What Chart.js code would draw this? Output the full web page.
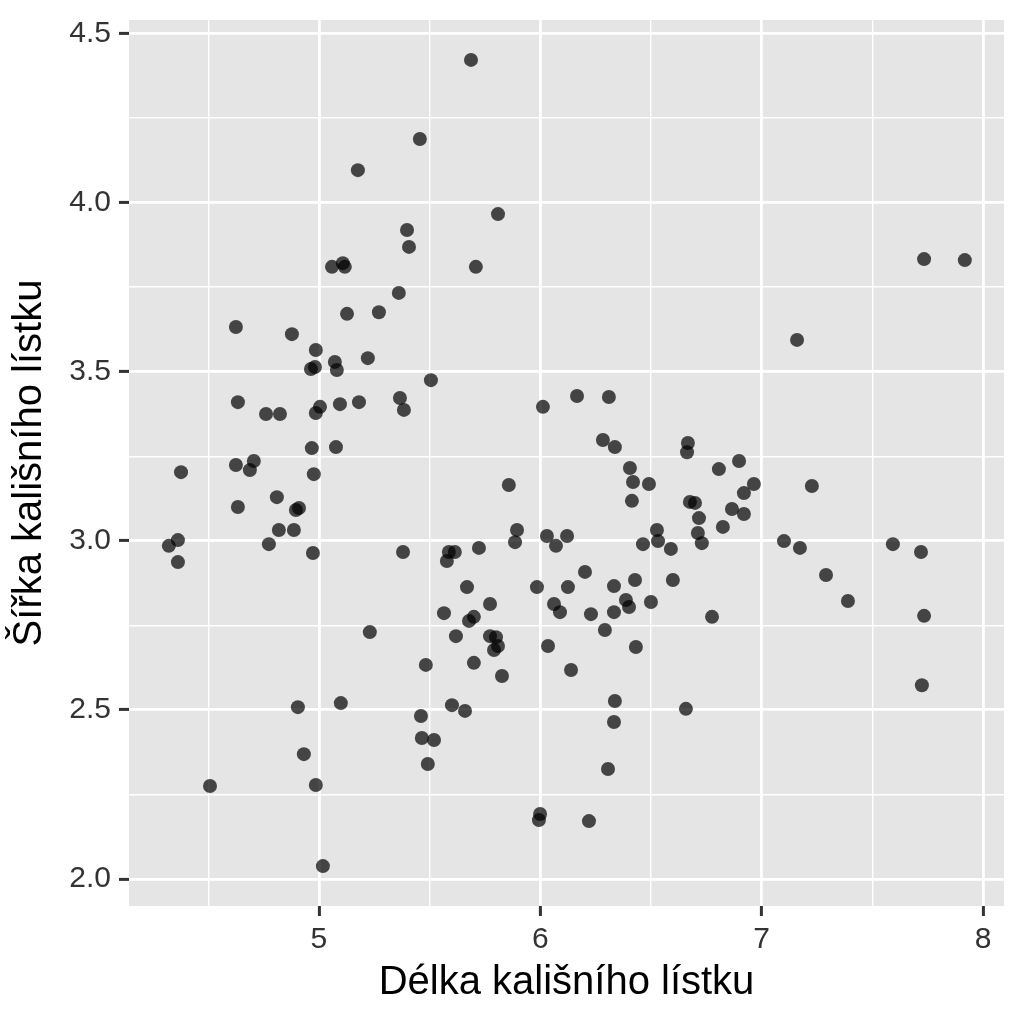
<!DOCTYPE html>
<html lang="cs">
<head>
<meta charset="utf-8">
<title>Kališní lístek</title>
<script src="https://cdn.jsdelivr.net/npm/chart.js@4.4.1/dist/chart.umd.min.js"></script>
<style>
  html, body { margin: 0; padding: 0; background: #fff; }
  #wrap { width: 1024px; height: 1024px; }
</style>
</head>
<body>
<div id="wrap"><canvas id="scatter" width="1024" height="1024"></canvas></div>
<script>
// --- Data (jittered points) ---
const sepalLength = [
  4.322, 4.363, 4.363, 4.377, 4.508, 4.625, 4.634, 4.625, 4.634, 4.706,
  4.688, 4.761, 4.824, 4.774, 4.810, 4.819, 4.878, 4.887, 4.896, 4.910,
  4.905, 4.932, 4.964, 4.986, 4.968, 4.977, 4.973, 4.986, 4.986, 5.005,
  5.018, 5.059, 5.072, 5.081, 5.077, 5.095, 5.108, 5.117, 5.127, 5.099,
  5.176, 5.181, 5.221, 5.230, 5.271, 5.361, 5.366, 5.384, 5.380, 5.398,
  5.407, 5.456, 5.461, 5.465, 5.483, 5.492, 5.506, 5.520, 5.565, 5.578,
  5.587, 5.614, 5.601, 5.619, 5.660, 5.669, 5.678, 5.700, 5.687, 5.709,
  5.700, 5.723, 5.773, 5.773, 5.791, 5.800, 5.809, 5.809, 5.827, 5.858,
  5.886, 5.895, 5.985, 5.999, 5.994, 6.012, 6.030, 6.035, 6.062, 6.071,
  6.089, 6.121, 6.125, 6.139, 6.166, 6.202, 6.220, 6.229, 6.283, 6.292,
  6.310, 6.306, 6.337, 6.333, 6.333, 6.337, 6.333, 6.387, 6.401, 6.405,
  6.419, 6.414, 6.428, 6.432, 6.464, 6.491, 6.500, 6.527, 6.532, 6.590,
  6.599, 6.658, 6.667, 6.663, 6.676, 6.699, 6.717, 6.712, 6.730, 6.776,
  6.807, 6.825, 6.866, 6.898, 6.920, 6.920, 6.965, 7.101, 7.160, 7.173,
  7.227, 7.291, 7.390, 7.593, 7.720, 7.734, 7.734, 7.724, 7.918, 4.982
];
const sepalWidth = [
  2.985, 3.002, 2.937, 3.203, 2.275, 3.632, 3.410, 3.224, 3.100, 3.236,
  3.209, 3.375, 3.375, 2.990, 3.129, 3.032, 3.611, 3.032, 3.091, 3.097,
  2.508, 2.369, 3.508, 3.564, 3.274, 3.197, 2.964, 2.278, 3.378, 3.396,
  2.038, 3.810, 3.529, 3.505, 3.277, 3.404, 3.821, 3.810, 3.671, 2.520,
  4.096, 3.410, 3.540, 2.730, 3.676, 3.733, 3.422, 3.387, 2.967, 3.919,
  3.869, 4.188, 2.482, 2.417, 2.633, 2.340, 3.475, 2.411, 2.786, 2.940,
  2.967, 2.967, 2.514, 2.718, 2.497, 2.863, 2.763, 2.775, 4.422, 3.810,
  2.639, 2.979, 2.813, 2.718, 2.677, 2.715, 2.689, 3.966, 2.600, 3.165,
  2.996, 3.032, 2.863, 2.192, 2.174, 3.396, 3.014, 2.689, 2.813, 2.985,
  2.789, 3.014, 2.863, 2.618, 3.428, 2.908, 2.171, 2.783, 3.298, 2.736,
  3.425, 2.325, 3.277, 2.866, 2.789, 2.526, 2.464, 2.825, 2.804, 3.215,
  3.174, 3.118, 2.884, 2.686, 2.990, 3.168, 2.819, 3.032, 2.999, 2.976,
  2.884, 2.503, 3.289, 3.262, 3.115, 3.112, 3.067, 3.023, 2.993, 2.775,
  3.212, 3.041, 3.094, 3.236, 3.141, 3.079, 3.168, 2.999, 3.594, 2.979,
  3.162, 2.899, 2.822, 2.990, 2.967, 3.833, 2.778, 2.573, 3.830, 3.514
];

const xTickValues = [4.5, 5, 5.5, 6, 6.5, 7, 7.5, 8];
const xTickLabels = ["", "5", "", "6", "", "7", "", "8"];
const yTickValues = [2, 2.25, 2.5, 2.75, 3, 3.25, 3.5, 3.75, 4, 4.25, 4.5];
const yTickLabels = ["2.0", "", "2.5", "", "3.0", "", "3.5", "", "4.0", "", "4.5"];

const xTitle = "Délka kališního lístku";
const yTitle = "Šířka kališního lístku";

// --- Helpers ---
const FONT = "'Liberation Sans', Arial, sans-serif";
const isMajor = (labels, i) => labels[i] !== "";

function gridFor(labels) {
  return {
    color: "#ffffff",
    lineWidth: (c) => (isMajor(labels, c.index) ? 2.8 : 1.4),
    tickColor: (c) => (isMajor(labels, c.index) ? "#333333" : "rgba(0,0,0,0)"),
    tickWidth: 3,
    tickLength: 10
  };
}

// grey panel behind the grid
const panelBackground = {
  id: "panelBackground",
  beforeDraw(chart) {
    const { ctx, chartArea: a } = chart;
    ctx.save();
    ctx.fillStyle = "#E5E5E5";
    ctx.fillRect(a.left, a.top, a.right - a.left, a.bottom - a.top);
    ctx.restore();
  }
};

// --- Render Chart ---
const ctx = document.getElementById("scatter").getContext("2d");
new Chart(ctx, {
  type: "scatter",
  data: {
    datasets: [{
      data: sepalLength.map((x, i) => ({ x, y: sepalWidth[i] })),
      backgroundColor: "rgba(0,0,0,0.7)",
      borderWidth: 0,
      pointRadius: 7,
      pointHoverRadius: 7
    }]
  },
  options: {
    responsive: false,
    animation: false,
    events: [],
    layout: { padding: { top: 20, right: 20, bottom: 0, left: 0 } },
    plugins: {
      legend: { display: false },
      tooltip: { enabled: false }
    },
    scales: {
      x: {
        type: "linear",
        min: 4.142,
        max: 8.095,
        afterBuildTicks: (s) => { s.ticks = xTickValues.map((v) => ({ value: v })); },
        afterFit: (s) => { s.height = 118; s.paddingLeft = 0; s.paddingRight = 0; },
        ticks: {
          autoSkip: false,
          maxRotation: 0,
          padding: 6,
          color: "#333333",
          font: { family: FONT, size: 30 },
          callback: (v, i) => xTickLabels[i]
        },
        grid: gridFor(xTickLabels),
        border: { display: false },
        title: {
          display: true,
          text: xTitle,
          color: "#000000",
          font: { family: FONT, size: 40 },
          padding: { top: 0, bottom: 17 }
        }
      },
      y: {
        type: "linear",
        min: 1.920,
        max: 4.540,
        afterBuildTicks: (s) => { s.ticks = yTickValues.map((v) => ({ value: v })); },
        afterFit: (s) => { s.width = 129; s.paddingTop = 0; s.paddingBottom = 0; },
        ticks: {
          autoSkip: false,
          padding: 8,
          color: "#333333",
          font: { family: FONT, size: 30 },
          callback: (v, i) => yTickLabels[i]
        },
        grid: gridFor(yTickLabels),
        border: { display: false },
        title: {
          display: true,
          text: yTitle,
          color: "#000000",
          font: { family: FONT, size: 40 },
          padding: { top: 6, bottom: 0 }
        }
      }
    }
  },
  plugins: [panelBackground]
});
</script>
</body>
</html>
